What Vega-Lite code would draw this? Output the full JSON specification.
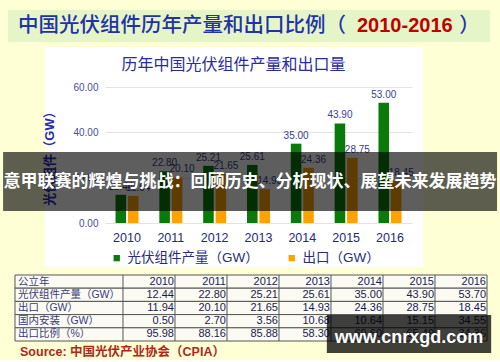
{
  "$schema": "https://vega.github.io/schema/vega-lite/v6.json",
  "background": "#FFFFD6",
  "padding": {"left": 3, "top": 10, "right": 3, "bottom": 1},
  "bounds": "flush",
  "spacing": 52,
  "resolve": {"scale": {"color": "independent"}, "legend": {"color": "independent"}},
  "config": {"font": "Liberation Sans, Noto Sans CJK SC", "view": {"stroke": null}},
  "datasets": {
    "bars": [
      {"year": "2010", "series": "光伏组件产量（GW）", "value": 12.44},
      {"year": "2011", "series": "光伏组件产量（GW）", "value": 22.80},
      {"year": "2012", "series": "光伏组件产量（GW）", "value": 25.21},
      {"year": "2013", "series": "光伏组件产量（GW）", "value": 25.61},
      {"year": "2014", "series": "光伏组件产量（GW）", "value": 35.00},
      {"year": "2015", "series": "光伏组件产量（GW）", "value": 43.90},
      {"year": "2016", "series": "光伏组件产量（GW）", "value": 53.00},
      {"year": "2010", "series": "出口（GW）", "value": 11.94},
      {"year": "2011", "series": "出口（GW）", "value": 20.10},
      {"year": "2012", "series": "出口（GW）", "value": 21.65},
      {"year": "2013", "series": "出口（GW）", "value": 14.93},
      {"year": "2014", "series": "出口（GW）", "value": 24.36},
      {"year": "2015", "series": "出口（GW）", "value": 28.75},
      {"year": "2016", "series": "出口（GW）", "value": 18.45}
    ],
    "rows": [
      {"row": "公立年"}, {"row": "光伏组件产量（GW）"}, {"row": "出口（GW）"}, {"row": "国内安装（GW）"}, {"row": "出口比例（%）"}
    ],
    "cells": [
      {"row": "公立年", "year": 2010, "val": "2010"},
      {"row": "公立年", "year": 2011, "val": "2011"},
      {"row": "公立年", "year": 2012, "val": "2012"},
      {"row": "公立年", "year": 2013, "val": "2013"},
      {"row": "公立年", "year": 2014, "val": "2014"},
      {"row": "公立年", "year": 2015, "val": "2015"},
      {"row": "公立年", "year": 2016, "val": "2016"},
      {"row": "光伏组件产量（GW）", "year": 2010, "val": "12.44"},
      {"row": "光伏组件产量（GW）", "year": 2011, "val": "22.80"},
      {"row": "光伏组件产量（GW）", "year": 2012, "val": "25.21"},
      {"row": "光伏组件产量（GW）", "year": 2013, "val": "25.61"},
      {"row": "光伏组件产量（GW）", "year": 2014, "val": "35.00"},
      {"row": "光伏组件产量（GW）", "year": 2015, "val": "43.90"},
      {"row": "光伏组件产量（GW）", "year": 2016, "val": "53.70"},
      {"row": "出口（GW）", "year": 2010, "val": "11.94"},
      {"row": "出口（GW）", "year": 2011, "val": "20.10"},
      {"row": "出口（GW）", "year": 2012, "val": "21.65"},
      {"row": "出口（GW）", "year": 2013, "val": "14.93"},
      {"row": "出口（GW）", "year": 2014, "val": "24.36"},
      {"row": "出口（GW）", "year": 2015, "val": "28.75"},
      {"row": "出口（GW）", "year": 2016, "val": "18.45"},
      {"row": "国内安装（GW）", "year": 2010, "val": "0.50"},
      {"row": "国内安装（GW）", "year": 2011, "val": "2.70"},
      {"row": "国内安装（GW）", "year": 2012, "val": "3.56"},
      {"row": "国内安装（GW）", "year": 2013, "val": "10.68"},
      {"row": "国内安装（GW）", "year": 2014, "val": "10.64"},
      {"row": "国内安装（GW）", "year": 2015, "val": "15.15"},
      {"row": "国内安装（GW）", "year": 2016, "val": "34.55"},
      {"row": "出口比例（%）", "year": 2010, "val": "95.98"},
      {"row": "出口比例（%）", "year": 2011, "val": "88.16"},
      {"row": "出口比例（%）", "year": 2012, "val": "85.88"},
      {"row": "出口比例（%）", "year": 2013, "val": "58.30"},
      {"row": "出口比例（%）", "year": 2014, "val": "69.60"},
      {"row": "出口比例（%）", "year": 2015, "val": "65.49"},
      {"row": "出口比例（%）", "year": 2016, "val": "34.36"}
    ]
  },
  "vconcat": [
    {
      "width": 385,
      "height": 25,
      "data": {"values": [{"title": "中国光伏组件历年产量和出口比例（", "years": "2010-2016", "close": "）"}]},
      "layer": [
        {
          "mark": {"type": "rect", "fill": "#FFFFFF"},
          "encoding": {
            "x": {"datum": -0.1558, "type": "quantitative", "scale": {"domain": [0, 1], "nice": false, "zero": false}, "axis": null},
            "x2": {"datum": 0.826},
            "y": {"datum": -0.48, "type": "quantitative", "scale": {"domain": [0, 1], "nice": false, "zero": false}, "axis": null},
            "y2": {"datum": -9.28}
          }
        },
        {
          "mark": {"type": "rect", "fill": "#E6F5C8"},
          "encoding": {
            "x": {"datum": -0.252, "type": "quantitative"},
            "x2": {"datum": 1.0},
            "y": {"datum": 1.0, "type": "quantitative"},
            "y2": {"datum": -0.28}
          }
        },
        {
          "mark": {"type": "text", "align": "left", "baseline": "middle", "fontSize": 20.5, "fontWeight": 500, "color": "#2233AA", "font": "Noto Sans CJK SC"},
          "encoding": {
            "x": {"datum": -0.226, "type": "quantitative"},
            "y": {"datum": 0.36, "type": "quantitative"},
            "text": {"field": "title"}
          }
        },
        {
          "mark": {"type": "text", "align": "left", "baseline": "middle", "fontSize": 20, "fontWeight": "bold", "color": "#C00000", "font": "Liberation Sans"},
          "encoding": {
            "x": {"datum": 0.6545, "type": "quantitative"},
            "y": {"datum": 0.36, "type": "quantitative"},
            "text": {"field": "years"}
          }
        },
        {
          "mark": {"type": "text", "align": "left", "baseline": "middle", "fontSize": 20.5, "fontWeight": 500, "color": "#2233AA", "font": "Noto Sans CJK SC"},
          "encoding": {
            "x": {"datum": 0.92, "type": "quantitative"},
            "y": {"datum": 0.36, "type": "quantitative"},
            "text": {"field": "close"}
          }
        }
      ]
    },
    {
      "width": 307,
      "height": 136,
      "title": {"text": "历年中国光伏组件产量和出口量", "fontSize": 16, "fontWeight": "normal", "color": "#2B2BA0", "font": "Noto Sans CJK SC", "frame": "group", "anchor": "middle", "dx": -25, "offset": 9},
      "layer": [
        {
          "data": {"name": "bars"},
          "encoding": {
            "x": {"field": "year", "type": "nominal", "scale": {"paddingInner": 0.475, "paddingOuter": 0.24},
                  "axis": {"title": null, "labelAngle": 0, "domain": false, "ticks": false, "labelFontSize": 12.5, "labelColor": "#1F2A7A", "labelPadding": 8}},
            "xOffset": {"field": "series", "type": "nominal", "scale": {"domain": ["光伏组件产量（GW）", "出口（GW）"], "paddingInner": 0.15}},
            "y": {"field": "value", "type": "quantitative", "scale": {"domain": [0, 60], "nice": false},
                  "axis": {"title": "光伏组件（GW）", "values": [0, 10, 20, 30, 40, 50, 60], "format": ".2f", "grid": true, "gridColor": "#E3E3E3", "domain": false, "ticks": false,
                           "labelFontSize": 10, "labelColor": "#4B4B96", "labelPadding": 7,
                           "titleFontSize": 13, "titleFontWeight": "bold", "titleColor": "#2A2AB0", "titlePadding": 16, "titleFont": "Liberation Sans, Noto Sans CJK SC"}}
          },
          "layer": [
            {
              "mark": {"type": "bar"},
              "encoding": {
                "color": {"field": "series", "type": "nominal",
                          "scale": {"domain": ["光伏组件产量（GW）", "出口（GW）"], "range": ["#0A7A0A", "#FFA200"]},
                          "legend": {"orient": "bottom", "direction": "horizontal", "title": null, "symbolType": "square", "symbolSize": 40, "symbolStrokeWidth": 0,
                                     "labelFontSize": 13.5, "labelColor": "#2B2B7A", "columnPadding": 26, "labelOffset": 4, "offset": 2, "padding": 5}}
              }
            },
            {
              "transform": [{"filter": "datum.series === '光伏组件产量（GW）'"}],
              "mark": {"type": "text", "dy": -8, "fontSize": 10, "color": "#3D3D8F"},
              "encoding": {"text": {"field": "value", "type": "quantitative", "format": ".2f"}}
            },
            {
              "transform": [{"filter": "datum.series === '出口（GW）'"}],
              "mark": {"type": "text", "dy": -8, "dx": 5, "fontSize": 10, "color": "#3D3D8F"},
              "encoding": {"text": {"field": "value", "type": "quantitative", "format": ".2f"}}
            }
          ]
        },
        {
          "data": {"values": [{"caption": "意甲联赛的辉煌与挑战：回顾历史、分析现状、展望未来发展趋势"}]},
          "layer": [
            {
              "mark": {"type": "rect", "fill": "#000000", "opacity": 0.63},
              "encoding": {
                "x": {"datum": -0.332, "type": "quantitative", "scale": {"domain": [0, 1], "nice": false, "zero": false}, "axis": null},
                "x2": {"datum": 1.277},
                "y": {"datum": 31.3, "type": "quantitative"},
                "y2": {"datum": 5.3}
              }
            },
            {
              "mark": {"type": "text", "align": "center", "baseline": "middle", "fontSize": 17, "fontWeight": "bold", "color": "#FFFFFF", "font": "Noto Sans CJK SC"},
              "encoding": {
                "x": {"datum": 0.472, "type": "quantitative"},
                "y": {"datum": 18.3, "type": "quantitative"},
                "text": {"field": "caption"}
              }
            }
          ]
        }
      ],
      "resolve": {"scale": {"x": "independent"}, "legend": {"color": "independent"}}
    },
    {
      "width": 382,
      "height": 66,
      "layer": [
        {
          "layer": [
            {
              "data": {"name": "rows"},
              "mark": {"type": "rect", "fill": "#FBFBF4", "stroke": "#555555", "strokeWidth": 1},
              "encoding": {
                "x": {"datum": 2007.423, "type": "quantitative", "scale": {"domain": [2009.154, 2016.5], "nice": false, "zero": false}, "axis": null},
                "x2": {"datum": 2016.5},
                "y": {"field": "row", "type": "nominal", "scale": {"type": "band", "domain": ["公立年", "光伏组件产量（GW）", "出口（GW）", "国内安装（GW）", "出口比例（%）"], "paddingInner": 0, "paddingOuter": 0}, "axis": null}
              }
            },
            {
              "data": {"name": "cells"},
              "transform": [{"filter": "datum.row === '公立年'"}],
              "mark": {"type": "rule", "xOffset": -26, "stroke": "#555555", "strokeWidth": 1},
              "encoding": {
                "x": {"field": "year", "type": "quantitative"}
              }
            },
            {
              "data": {"name": "rows"},
              "mark": {"type": "text", "align": "left", "baseline": "middle", "fontSize": 10.5, "color": "#3A3A7A"},
              "encoding": {
                "x": {"datum": 2007.48, "type": "quantitative"},
                "y": {"field": "row", "type": "nominal", "scale": {"type": "band"}},
                "text": {"field": "row"}
              }
            },
            {
              "data": {"name": "cells"},
              "mark": {"type": "text", "align": "right", "baseline": "middle", "dx": 25, "fontSize": 11, "color": "#1A1A50"},
              "encoding": {
                "x": {"field": "year", "type": "quantitative"},
                "y": {"field": "row", "type": "nominal", "scale": {"type": "band"}},
                "text": {"field": "val"}
              }
            }
          ]
        },
        {
          "data": {"values": [{"src": "Source: 中国光伏产业协会（CPIA）", "mark": "www.cnrxgd.com"}]},
          "layer": [
            {
              "mark": {"type": "text", "align": "left", "baseline": "middle", "fontSize": 12.5, "fontWeight": "bold", "color": "#B0281A"},
              "encoding": {
                "x": {"datum": 2007.52, "type": "quantitative"},
                "y": {"datum": -0.167, "type": "quantitative", "scale": {"domain": [0, 1], "nice": false, "zero": false}, "axis": null},
                "text": {"field": "src"}
              }
            },
            {
              "mark": {"type": "rect", "fill": "#000000", "opacity": 0.75},
              "encoding": {
                "x": {"datum": 2013.42, "type": "quantitative"},
                "x2": {"datum": 2016.58},
                "y": {"datum": 0.394, "type": "quantitative"},
                "y2": {"datum": -0.182}
              }
            },
            {
              "mark": {"type": "text", "align": "center", "baseline": "middle", "fontSize": 18, "fontWeight": "bold", "color": "#FFFFFF"},
              "encoding": {
                "x": {"datum": 2015.0, "type": "quantitative"},
                "y": {"datum": 0.045, "type": "quantitative"},
                "text": {"field": "mark"}
              }
            }
          ]
        }
      ],
      "resolve": {"scale": {"y": "independent"}}
    }
  ]
}
